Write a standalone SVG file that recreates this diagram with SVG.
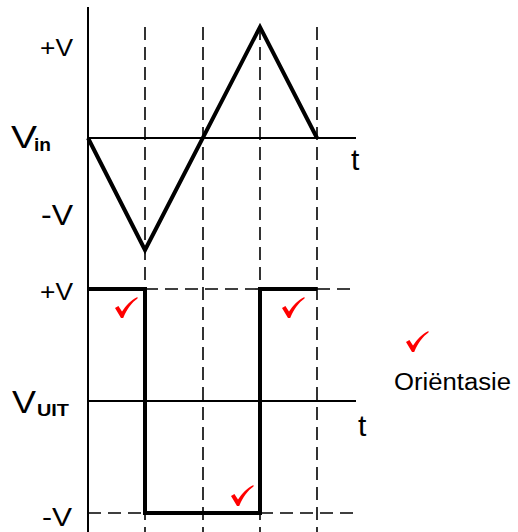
<svg xmlns="http://www.w3.org/2000/svg" width="518" height="532" viewBox="0 0 518 532">
<style>
.ax{stroke:#000;stroke-width:2;fill:none}
.dash{stroke:#000;stroke-width:1.6;fill:none;stroke-dasharray:13 7}
.wave{stroke:#000;stroke-width:4;fill:none;stroke-linejoin:miter}
text{font-family:"Liberation Sans",Arial,sans-serif;fill:#000}
.b{font-weight:bold}
.chk{fill:#f00}
</style>
<defs>
<path id="check" d="M0,11 L3.4,9 L7,14.6 C10.8,8.6 15.8,3.2 22.5,0 L22.5,1.6 C16.5,6 12,12 8.2,21 L6,21 Z"/>
</defs>
<rect width="518" height="532" fill="#fff"/>
<g id="connectors">
<line class="ax" x1="88" y1="7" x2="88" y2="532"/>
<line class="ax" x1="88" y1="138" x2="356" y2="138"/>
<line class="ax" x1="88" y1="401" x2="356" y2="401"/>
<line class="dash" x1="145" y1="27" x2="145" y2="532"/>
<line class="dash" x1="203" y1="27" x2="203" y2="532"/>
<line class="dash" x1="260" y1="27" x2="260" y2="532"/>
<line class="dash" x1="317" y1="27" x2="317" y2="532"/>
<line class="dash" x1="145" y1="289" x2="260" y2="289"/>
<line class="dash" x1="317" y1="289" x2="356" y2="289"/>
<line class="dash" x1="88" y1="513" x2="145" y2="513"/>
<line class="dash" x1="260" y1="513" x2="356" y2="513"/>
</g>
<g id="triangle">
<polyline class="wave" points="88,138 145,250 260,27 317,138"/>
</g>
<g id="square">
<polyline class="wave" points="88,289 145,289 145,513 260,513 260,289 317,289"/>
</g>
<g id="labels">
<text x="40" y="56" font-size="24" textLength="33" lengthAdjust="spacingAndGlyphs">+V</text>
<text x="11" y="148" font-size="32" textLength="26" lengthAdjust="spacingAndGlyphs">V</text>
<text class="b" x="34" y="151" font-size="18" textLength="17" lengthAdjust="spacingAndGlyphs">in</text>
<text x="351" y="170" font-size="30">t</text>
<text x="41" y="225" font-size="29" textLength="32" lengthAdjust="spacingAndGlyphs">-V</text>
<text x="40" y="300" font-size="24" textLength="33" lengthAdjust="spacingAndGlyphs">+V</text>
<text x="12" y="413" font-size="32" textLength="24" lengthAdjust="spacingAndGlyphs">V</text>
<text class="b" x="37" y="416" font-size="17" textLength="32" lengthAdjust="spacingAndGlyphs">UIT</text>
<text x="358" y="436" font-size="30">t</text>
<text x="42" y="526" font-size="26" textLength="30" lengthAdjust="spacingAndGlyphs">-V</text>
</g>
<g id="legend">
<use href="#check" class="chk" x="406" y="331"/>
<text x="394" y="390" font-size="23" textLength="117" lengthAdjust="spacingAndGlyphs">Oriëntasie</text>
</g>
<g id="checks">
<use href="#check" class="chk" x="115" y="297"/>
<use href="#check" class="chk" x="282" y="297"/>
<use href="#check" class="chk" x="231" y="485"/>
</g>
</svg>
